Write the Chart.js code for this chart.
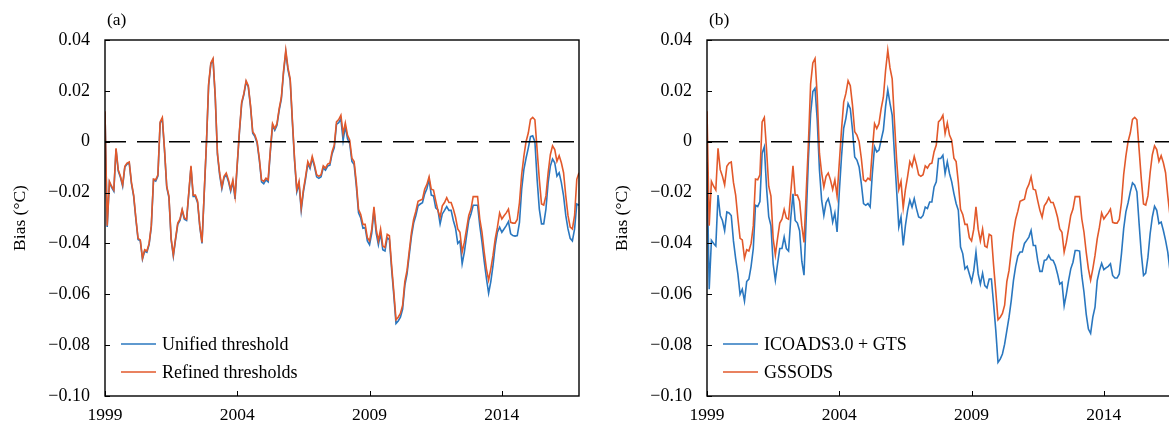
<!DOCTYPE html>
<html>
<head>
<meta charset="utf-8">
<title>Bias</title>
<script src="https://cdn.jsdelivr.net/npm/chart.js@4.4.1/dist/chart.umd.min.js"></script>
<style>
    html, body { margin: 0; padding: 0; background: #fff; width: 1169px; height: 425px; overflow: hidden; position: relative; }
    .panel { position: absolute; top: 0; width: 590px; height: 425px; }
    #panel-a { left: 0; }
    #panel-b { left: 602px; }
</style>
</head>
<body>
<div class="panel" id="panel-a"><canvas id="chart-a" width="590" height="425"></canvas></div>
<div class="panel" id="panel-b"><canvas id="chart-b" width="590" height="425"></canvas></div>
<script>
// x = months since Jan 1999
var monthSpan = [0, 215];
var yearTicks = [0, 60, 120, 180];
var yearLabels = ["1999", "2004", "2009", "2014"];
var biasTicks = [0.04, 0.02, 0, -0.02, -0.04, -0.06, -0.08, -0.10];
var biasLabels = ["0.04", "0.02", "0", "\u22120.02", "\u22120.04", "\u22120.06", "\u22120.08", "\u22120.10"];

// Refined thresholds (a) / GSSODS (b)
var refined = [
    0.012, -0.033, -0.0156, -0.0175, -0.019, -0.0026, -0.011, -0.0136, -0.017, -0.0097, -0.0084, -0.008,
    -0.016, -0.021, -0.030, -0.038, -0.0386, -0.0458, -0.0425, -0.043, -0.040, -0.033, -0.0147, -0.015,
    -0.013, 0.0078, 0.0095, -0.003, -0.0175, -0.0214, -0.038, -0.0445, -0.038, -0.032, -0.0305, -0.0266,
    -0.030, -0.0305, -0.020, -0.0095, -0.021, -0.021, -0.0234, -0.033, -0.0396, -0.020, -0.0006, 0.0227,
    0.031, 0.0327, 0.018, -0.0045, -0.0123, -0.0178, -0.0136, -0.0123, -0.015, -0.0188, -0.015, -0.0214,
    -0.0084, 0.0045, 0.0156, 0.019, 0.024, 0.022, 0.0143, 0.0039, 0.0026, 0.000, -0.0065, -0.015,
    -0.0156, -0.0143, -0.015, -0.0032, 0.0071, 0.0052, 0.0071, 0.013, 0.0175, 0.028, 0.036, 0.029,
    0.0247, 0.0084, -0.007, -0.0188, -0.0156, -0.026, -0.0188, -0.0136, -0.0078, -0.0097, -0.0058, -0.009,
    -0.013, -0.0136, -0.013, -0.0095, -0.0104, -0.0088, -0.0084, -0.0039, -0.0013, 0.0078, 0.0087, 0.0104,
    0.0032, 0.0074, 0.0026, 0.0006, -0.0065, -0.0078, -0.016, -0.0266, -0.0286, -0.0325, -0.0325, -0.0377,
    -0.039, -0.0344, -0.0256, -0.0344, -0.039, -0.0344, -0.041, -0.0416, -0.0364, -0.037, -0.0487, -0.059,
    -0.070, -0.069, -0.0675, -0.0643, -0.055, -0.0506, -0.043, -0.0357, -0.0305, -0.0273, -0.0234, -0.023,
    -0.0226, -0.0187, -0.0168, -0.0138, -0.0187, -0.019, -0.0232, -0.027, -0.0297, -0.0252, -0.0239, -0.022,
    -0.0239, -0.0239, -0.0265, -0.0297, -0.0343, -0.0356, -0.0434, -0.0395, -0.0343, -0.029, -0.0265, -0.0216,
    -0.0216, -0.0216, -0.0304, -0.0356, -0.0434, -0.050, -0.0544, -0.050, -0.0447, -0.0382, -0.0336, -0.028,
    -0.0304, -0.0291, -0.028, -0.0265, -0.0317, -0.032, -0.032, -0.0306, -0.0239, -0.0129, -0.0057, 0.0001,
    0.0034, 0.0088, 0.0096, 0.0086, -0.0031, -0.0148, -0.0245, -0.0249, -0.0213, -0.0122, -0.0051, -0.0016,
    -0.0031, -0.0077, -0.0055, -0.0083, -0.0122, -0.0213, -0.029, -0.0336, -0.0343, -0.029, -0.0148, -0.0122
];

// Unified threshold (a)
var unified = [
    0.0115, -0.0335, -0.016, -0.018, -0.0195, -0.003, -0.0115, -0.014, -0.0175, -0.010, -0.0088, -0.0085,
    -0.0165, -0.0215, -0.0305, -0.0385, -0.039, -0.0462, -0.043, -0.0435, -0.0405, -0.0335, -0.015, -0.0155,
    -0.0135, 0.0073, 0.009, -0.0035, -0.018, -0.022, -0.0385, -0.045, -0.0385, -0.0325, -0.031, -0.027,
    -0.0305, -0.031, -0.0205, -0.010, -0.0215, -0.0215, -0.024, -0.0335, -0.040, -0.0205, -0.001, 0.022,
    0.0305, 0.0322, 0.0175, -0.005, -0.013, -0.0185, -0.0142, -0.013, -0.0157, -0.0195, -0.0158, -0.0225,
    -0.009, 0.004, 0.015, 0.0185, 0.0235, 0.0215, 0.0138, 0.0033, 0.002, -0.0006, -0.0072, -0.0158,
    -0.0165, -0.015, -0.0158, -0.004, 0.0065, 0.0045, 0.0065, 0.0123, 0.0168, 0.0273, 0.0352, 0.0283,
    0.024, 0.0076, -0.0078, -0.0197, -0.0165, -0.027, -0.0197, -0.0145, -0.0086, -0.0105, -0.0066, -0.0098,
    -0.0138, -0.0144, -0.0138, -0.0103, -0.0112, -0.0096, -0.0092, -0.0048, -0.0023, 0.0068, 0.0075, 0.009,
    0.0005, 0.006, 0.0012, -0.0008, -0.0078, -0.009, -0.0175, -0.028, -0.030, -0.034, -0.0338, -0.039,
    -0.0405, -0.036, -0.027, -0.036, -0.0405, -0.036, -0.0425, -0.043, -0.0378, -0.0385, -0.050, -0.0605,
    -0.0715, -0.0705, -0.069, -0.0658, -0.0565, -0.052, -0.0445, -0.0372, -0.032, -0.029, -0.0252, -0.0245,
    -0.024, -0.0205, -0.0185, -0.0148, -0.021, -0.0213, -0.026, -0.0268, -0.0323, -0.0284, -0.027, -0.0255,
    -0.027, -0.027, -0.031, -0.034, -0.040, -0.039, -0.048, -0.0434, -0.037, -0.031, -0.0284, -0.025,
    -0.025, -0.025, -0.033, -0.0395, -0.047, -0.0537, -0.0596, -0.055, -0.0486, -0.0408, -0.0356, -0.0336,
    -0.0356, -0.0343, -0.033, -0.0314, -0.0362, -0.0369, -0.0371, -0.0369, -0.0317, -0.0187, -0.0109, -0.0064,
    -0.0025, 0.002, 0.0023, 0.000, -0.0148, -0.0265, -0.0323, -0.0323, -0.0265, -0.0161, -0.0096, -0.0068,
    -0.0083, -0.0135, -0.0122, -0.0161, -0.0213, -0.029, -0.0343, -0.038, -0.039, -0.0343, -0.0245, -0.025
];

// ICOADS3.0 + GTS (b)
var icoadsGts = [
    -0.008, -0.058, -0.0388, -0.040, -0.041, -0.021, -0.029, -0.031, -0.035, -0.0276, -0.028, -0.029,
    -0.039, -0.046, -0.052, -0.060, -0.058, -0.0627, -0.055, -0.054, -0.049, -0.042, -0.025, -0.0255,
    -0.0235, -0.0045, -0.002, -0.018, -0.0295, -0.033, -0.048, -0.0545, -0.048, -0.042, -0.042, -0.0375,
    -0.042, -0.043, -0.030, -0.0205, -0.031, -0.032, -0.035, -0.047, -0.0525, -0.030, -0.0066, 0.011,
    0.0197, 0.021, 0.0085, -0.011, -0.023, -0.029, -0.024, -0.0224, -0.0257, -0.0316, -0.028, -0.0355,
    -0.020, -0.006, 0.0053, 0.0092, 0.015, 0.013, 0.0046, -0.006, -0.0072, -0.0099, -0.0165, -0.0243,
    -0.025, -0.0243, -0.0257, -0.0125, -0.002, -0.004, -0.0033, 0.0007, 0.0046, 0.0138, 0.0204, 0.0151,
    0.0105, -0.0046, -0.019, -0.0335, -0.0296, -0.0408, -0.033, -0.027, -0.023, -0.0257, -0.0224, -0.0263,
    -0.0296, -0.030, -0.029, -0.0257, -0.0263, -0.0237, -0.0237, -0.0178, -0.0158, -0.0066, -0.0066, -0.0053,
    -0.0125, -0.0079, -0.0125, -0.0158, -0.0204, -0.0243, -0.027, -0.0414, -0.044, -0.050, -0.049, -0.052,
    -0.055, -0.0507, -0.0434, -0.052, -0.056, -0.0517, -0.0566, -0.0575, -0.054, -0.054, -0.0638, -0.0743,
    -0.0868, -0.0855, -0.0835, -0.0796, -0.0743, -0.069, -0.0625, -0.0546, -0.049, -0.045, -0.0434, -0.0434,
    -0.040, -0.0388, -0.0375, -0.0349, -0.0408, -0.0408, -0.0467, -0.051, -0.051, -0.0467, -0.0464, -0.0447,
    -0.0464, -0.0467, -0.0487, -0.052, -0.056, -0.0553, -0.0645, -0.0599, -0.0546, -0.050, -0.0474, -0.0428,
    -0.0428, -0.043, -0.0526, -0.0592, -0.0678, -0.0737, -0.0754, -0.069, -0.0651, -0.0546, -0.0507, -0.0478,
    -0.0503, -0.0496, -0.049, -0.048, -0.0526, -0.0536, -0.0536, -0.052, -0.044, -0.0342, -0.0276, -0.024,
    -0.0197, -0.0162, -0.0171, -0.0197, -0.0322, -0.044, -0.0526, -0.0517, -0.0454, -0.0362, -0.0296, -0.0254,
    -0.027, -0.0322, -0.0316, -0.0349, -0.0388, -0.0434, -0.0507, -0.054, -0.055, -0.050, -0.040, -0.038
];

(function (global) {
    "use strict";

    var BLUE = "#2a77bf";
    var ORANGE = "#e2592b";
    var SERIF = "'Liberation Serif', 'Times New Roman', serif";

    Chart.defaults.font.family = SERIF;
    Chart.defaults.font.size = 17.5;
    Chart.defaults.color = "#000";

    function toPoints(values) {
        return values.map(function (v, i) { return { x: i, y: v }; });
    }

    // frame, inward ticks, panel tag and legend
    var panelDecor = {
        id: "panelDecor",
        afterDraw: function (chart, args, opts) {
            var ctx = chart.ctx;
            var area = chart.chartArea;
            var xs = chart.scales.x;
            var ys = chart.scales.y;

            ctx.save();
            ctx.strokeStyle = "#000";
            ctx.lineWidth = 1;
            ys.ticks.forEach(function (t) {
                var py = Math.round(ys.getPixelForValue(t.value)) + 0.5;
                ctx.beginPath();
                ctx.moveTo(area.left, py);
                ctx.lineTo(area.left + 5, py);
                ctx.stroke();
            });
            xs.ticks.forEach(function (t) {
                var px = Math.round(xs.getPixelForValue(t.value)) + 0.5;
                ctx.beginPath();
                ctx.moveTo(px, area.bottom);
                ctx.lineTo(px, area.bottom - 5);
                ctx.stroke();
            });

            ctx.lineWidth = 1.4;
            ctx.strokeRect(area.left, area.top, area.right - area.left, area.bottom - area.top);

            ctx.fillStyle = "#000";
            ctx.font = "17.5px " + SERIF;
            ctx.textAlign = "left";
            ctx.textBaseline = "middle";
            ctx.fillText(opts.tag, area.left + 2, 20);

            ctx.font = "18px " + SERIF;
            opts.legend.forEach(function (idx, row) {
                var ds = chart.data.datasets[idx];
                var ly = area.top + 304 + row * 28;
                ctx.strokeStyle = ds.borderColor;
                ctx.lineWidth = 1.6;
                ctx.beginPath();
                ctx.moveTo(area.left + 16, ly);
                ctx.lineTo(area.left + 51, ly);
                ctx.stroke();
                ctx.fillText(ds.label, area.left + 57, ly + 1);
            });
            ctx.restore();
        }
    };

    function buildChart(canvasId, tag, blueLabel, blueValues, orangeLabel) {
        var ctx = document.getElementById(canvasId).getContext("2d");
        return new Chart(ctx, {
            type: "line",
            data: {
                datasets: [
                    {
                        label: blueLabel,
                        data: toPoints(blueValues),
                        borderColor: BLUE,
                        borderWidth: 1.6,
                        order: 3
                    },
                    {
                        label: orangeLabel,
                        data: toPoints(refined),
                        borderColor: ORANGE,
                        borderWidth: 1.6,
                        order: 2
                    },
                    {
                        label: "zero",
                        data: [{ x: monthSpan[0], y: 0 }, { x: monthSpan[1], y: 0 }],
                        borderColor: "#000",
                        borderWidth: 1.5,
                        borderDash: [21, 11],
                        order: 1
                    }
                ]
            },
            options: {
                responsive: false,
                animation: false,
                devicePixelRatio: 1,
                layout: { padding: { left: 0, right: 11, top: 40, bottom: 0 } },
                elements: {
                    point: { radius: 0 },
                    line: { tension: 0, fill: false }
                },
                plugins: {
                    legend: { display: false },
                    tooltip: { enabled: false },
                    panelDecor: { tag: tag, legend: [0, 1] }
                },
                scales: {
                    x: {
                        type: "linear",
                        min: monthSpan[0],
                        max: monthSpan[1],
                        grid: { display: false, drawTicks: false },
                        border: { display: false },
                        afterBuildTicks: function (scale) {
                            scale.ticks = yearTicks.map(function (v) { return { value: v }; });
                        },
                        afterFit: function (scale) { scale.height = 29; },
                        ticks: {
                            autoSkip: false,
                            maxRotation: 0,
                            padding: 9,
                            callback: function (value) {
                                var i = yearTicks.indexOf(value);
                                return i >= 0 ? yearLabels[i] : "";
                            }
                        }
                    },
                    y: {
                        min: -0.10,
                        max: 0.04,
                        grid: { display: false, drawTicks: false },
                        border: { display: false },
                        afterBuildTicks: function (scale) {
                            scale.ticks = biasTicks.map(function (v) { return { value: v }; });
                        },
                        afterFit: function (scale) { scale.width = 105; },
                        title: {
                            display: true,
                            text: "Bias (\u00B0C)",
                            padding: { top: 10, bottom: 4 }
                        },
                        ticks: {
                            padding: 15,
                            font: { size: 18 },
                            callback: function (value) {
                                var i = biasTicks.indexOf(value);
                                return i >= 0 ? biasLabels[i] : "";
                            }
                        }
                    }
                }
            },
            plugins: [panelDecor]
        });
    }

    buildChart("chart-a", "(a)", "Unified threshold", unified, "Refined thresholds");
    buildChart("chart-b", "(b)", "ICOADS3.0 + GTS", icoadsGts, "GSSODS");
})(window);
</script>
</body>
</html>
